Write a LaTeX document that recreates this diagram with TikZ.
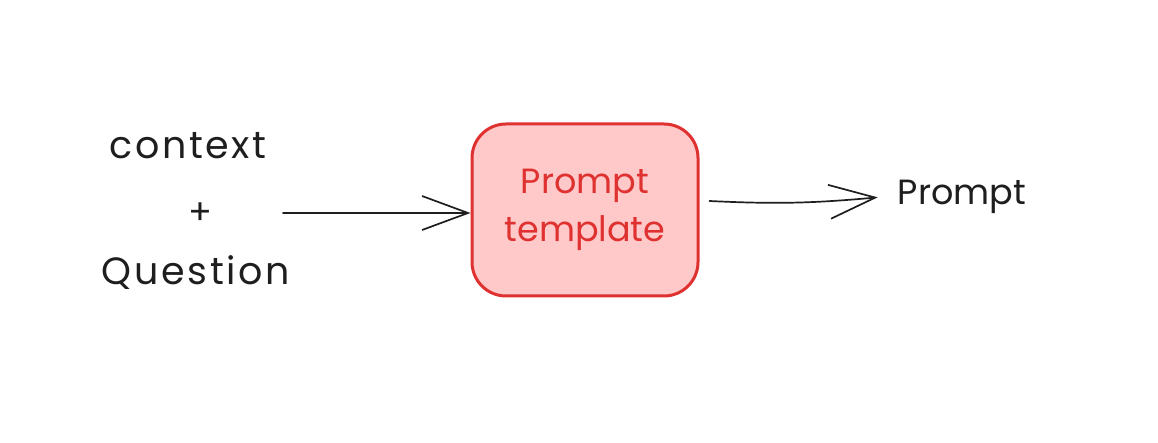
\documentclass[tikz,border=0pt]{standalone}
\usepackage{fontspec}
\setmainfont{Poppins}
\newfontfamily\widefont[LetterSpace=7]{Poppins}
\usetikzlibrary{arrows.meta,positioning}

\definecolor{ink}{HTML}{1E1E1E}
\definecolor{boxred}{HTML}{E03131}
\definecolor{boxfill}{HTML}{FFC9C9}

\tikzset{
  plain text/.style={text=ink, font=\fontsize{35}{40}\selectfont, inner sep=0pt},
  wide text/.style={plain text, font=\widefont\fontsize{38}{40}\selectfont},
  sketch arrow/.style={draw=ink, line width=1.7pt, line cap=round,
    -{Straight Barb[length=46pt,width=34pt,line width=1.7pt]}},
  template box/.style={draw=boxred, fill=boxfill, line width=3pt,
    rounded corners=34pt, minimum width=226pt, minimum height=172pt,
    text=boxred, align=center, font=\fontsize{35}{48}\selectfont}
}

\begin{document}
\begin{tikzpicture}[x=1pt,y=-1pt]
    % page
    \useasboundingbox (0,0) rectangle (1158,443);

    % inputs
    \node[wide text, anchor=base] (ctx) at (188,159) {context};
    \node[plain text] (plus) at (200,214) {+};
    \node[wide text, anchor=base] (question) at (196,285) {Question};
    \coordinate (src) at (283,213);

    % template
    \node[template box] (tmpl) at (585,210) {Prompt\\template};

    % output
    \node[plain text, anchor=base] (out) at (962,205) {Prompt};

    % arrows
    \draw[sketch arrow] (src) -- (tmpl.west |- src);
    \draw[sketch arrow] ([xshift=10pt,yshift=9pt]tmpl.east) to[bend right=4] ([xshift=-20pt]out.west);

\end{tikzpicture}
\end{document}
